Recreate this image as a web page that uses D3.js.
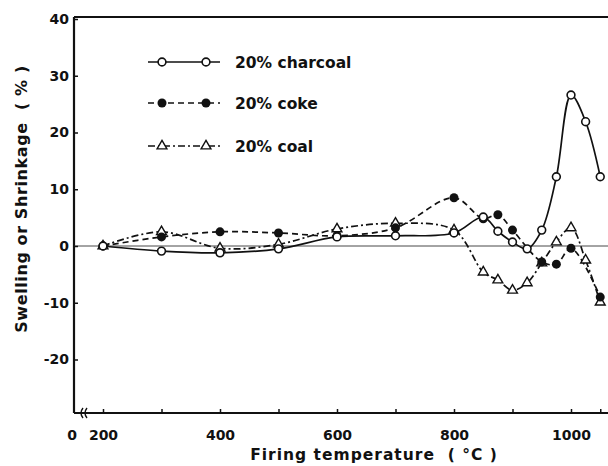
<!DOCTYPE html>
<html>
<head>
<meta charset="utf-8">
<script src="https://cdn.jsdelivr.net/npm/d3@7"></script>
<style>
  body { margin: 0; background: #fff; }
  text { font-family: "DejaVu Sans", sans-serif; font-weight: bold; fill: #111; }
</style>
</head>
<body>
<svg id="chart"></svg>
<script>
// firing temperatures (deg C) and swelling (+) / shrinkage (-) in %
const charcoalT = [200, 300, 400, 500, 600, 700, 800, 850, 875, 900, 925, 950, 975, 1000, 1025, 1050];
const charcoalV = [0, -0.9, -1.2, -0.5, 1.6, 1.8, 2.3, 5.1, 2.6, 0.7, -0.5, 2.8, 12.2, 26.6, 21.9, 12.2];

const cokeT = [200, 300, 400, 500, 600, 700, 800, 850, 875, 900, 950, 975, 1000, 1050];
const cokeV = [0, 1.6, 2.5, 2.3, 1.8, 3.2, 8.5, 4.8, 5.5, 2.8, -2.8, -3.2, -0.4, -9.0];

const coalT = [200, 300, 400, 500, 600, 700, 800, 850, 875, 900, 925, 950, 975, 1000, 1025, 1050];
const coalV = [0, 2.5, -0.4, 0.3, 3.0, 4.0, 2.8, -4.6, -6.0, -7.8, -6.5, -3.0, 0.7, 3.2, -2.5, -9.9];

const xTicks = [200, 300, 400, 500, 600, 700, 800, 900, 1000, 1050];
const xLabels = [200, 400, 600, 800, 1000];
const yTicks = [40, 30, 20, 10, 0, -10, -20];
const legendNames = ["20% charcoal", "20% coke", "20% coal"];

function main() {
    const width = 608;
    const height = 466;
    const axisLeft = 74;
    const axisRight = 608;
    const axisBottom = 413;

    let svg = d3.select("#chart")
        .attr("width", width)
        .attr("height", height);

    svg.append("rect").attr("width", width).attr("height", height).attr("fill", "#fff");

    const x = d3.scaleLinear().domain([200, 1000]).range([103, 571]);
    const y = d3.scaleLinear().domain([0, 40]).range([246, 19]);
    const axisTop = y(40) - 2;

    // frame lines: left, bottom, top
    svg.append("line")
        .attr("x1", axisLeft).attr("x2", axisLeft)
        .attr("y1", axisTop).attr("y2", axisBottom)
        .attr("stroke", "#111").attr("stroke-width", 2.2);
    svg.append("line")
        .attr("x1", axisLeft).attr("x2", axisRight)
        .attr("y1", axisBottom).attr("y2", axisBottom)
        .attr("stroke", "#111").attr("stroke-width", 2.2);
    svg.append("line")
        .attr("x1", axisLeft).attr("x2", axisRight)
        .attr("y1", axisTop).attr("y2", axisTop)
        .attr("stroke", "#111").attr("stroke-width", 2.2);

    // zero line
    svg.append("line")
        .attr("x1", axisLeft).attr("x2", axisRight)
        .attr("y1", y(0)).attr("y2", y(0))
        .attr("stroke", "#333").attr("stroke-width", 0.9);

    // y axis (plain hyphen for negatives, as in the original)
    let yAxis = svg.append("g")
        .attr("transform", `translate(${axisLeft},0)`)
        .call(d3.axisLeft(y).tickValues(yTicks).tickSizeInner(-4).tickSizeOuter(0).tickPadding(5)
            .tickFormat(d => String(d)));
    yAxis.select(".domain").remove();
    yAxis.selectAll("line").attr("stroke", "#111").attr("stroke-width", 1.5);
    yAxis.selectAll("text").style("font-size", "14px").attr("fill", "#111");

    // x axis
    let xAxis = svg.append("g")
        .attr("transform", `translate(0,${axisBottom})`)
        .call(d3.axisBottom(x).tickValues(xTicks).tickSizeInner(-4).tickSizeOuter(0).tickPadding(17)
            .tickFormat(d => xLabels.includes(d) ? String(d) : ""));
    xAxis.select(".domain").remove();
    xAxis.selectAll("line").attr("stroke", "#111").attr("stroke-width", 1.5);
    xAxis.selectAll("text").style("font-size", "14px").attr("fill", "#111");

    // "0" of the broken axis and break marks
    svg.append("text")
        .attr("x", 72).attr("y", 440)
        .attr("text-anchor", "middle")
        .style("font-size", "14px")
        .text("0");
    [81, 85].forEach(function(bx) {
        svg.append("path")
            .attr("d", `M${bx + 2},${axisBottom - 5} Q${bx - 2},${axisBottom} ${bx + 2},${axisBottom + 5}`)
            .attr("fill", "none").attr("stroke", "#111").attr("stroke-width", 1.4);
    });

    // axis titles
    svg.append("text")
        .attr("transform", "translate(27,199) rotate(-90)")
        .attr("text-anchor", "middle")
        .style("font-size", "16px")
        .style("letter-spacing", "0.6px")
        .style("white-space", "pre")
        .text("Swelling or Shrinkage  ( % )");
    svg.append("text")
        .attr("x", 374).attr("y", 460)
        .attr("text-anchor", "middle")
        .style("font-size", "15.5px")
        .style("letter-spacing", "1px")
        .style("white-space", "pre")
        .text("Firing temperature  ( °C )");

    const styles = [
        { t: charcoalT, v: charcoalV, dash: null, marker: "open" },
        { t: cokeT, v: cokeV, dash: "6,4", marker: "filled" },
        { t: coalT, v: coalV, dash: "7,3,2,3", marker: "triangle" }
    ];

    const line = d3.line()
        .x(d => x(d[0]))
        .y(d => y(d[1]))
        .curve(d3.curveCatmullRom.alpha(0.5));

    function drawMarker(g, px, py, kind) {
        if (kind == "triangle") {
            g.append("path")
                .attr("d", d3.symbol().type(d3.symbolTriangle).size(42)())
                .attr("transform", `translate(${px},${py})`)
                .attr("fill", "#fff").attr("stroke", "#111").attr("stroke-width", 1.4);
        } else if (kind == "filled") {
            g.append("circle")
                .attr("cx", px).attr("cy", py).attr("r", 4.5)
                .attr("fill", "#111");
        } else {
            g.append("circle")
                .attr("cx", px).attr("cy", py).attr("r", 3.9)
                .attr("fill", "#fff").attr("stroke", "#111").attr("stroke-width", 1.6);
        }
    }

    // lines
    styles.forEach(function(s) {
        let pts = s.t.map((t, i) => [t, s.v[i]]);
        svg.append("path")
            .datum(pts)
            .attr("d", line)
            .attr("fill", "none")
            .attr("stroke", "#111")
            .attr("stroke-width", 1.7)
            .attr("stroke-dasharray", s.dash);
    });

    // markers, coal first so circles sit on top
    let markers = svg.append("g");
    [styles[2], styles[1], styles[0]].forEach(function(s) {
        s.t.forEach(function(t, i) {
            drawMarker(markers, x(t), y(s.v[i]), s.marker);
        });
    });

    // legend
    const legendY = [62, 103, 146];
    let legend = svg.append("g");
    styles.forEach(function(s, i) {
        let ly = legendY[i];
        legend.append("line")
            .attr("x1", 148).attr("x2", 220)
            .attr("y1", ly).attr("y2", ly)
            .attr("stroke", "#111").attr("stroke-width", 1.7)
            .attr("stroke-dasharray", s.dash);
        drawMarker(legend, 162, ly, s.marker);
        drawMarker(legend, 206, ly, s.marker);
        legend.append("text")
            .attr("x", 235).attr("y", ly + 5.5)
            .style("font-size", "15.5px")
            .text(legendNames[i]);
    });
}

main();
</script>
</body>
</html>
